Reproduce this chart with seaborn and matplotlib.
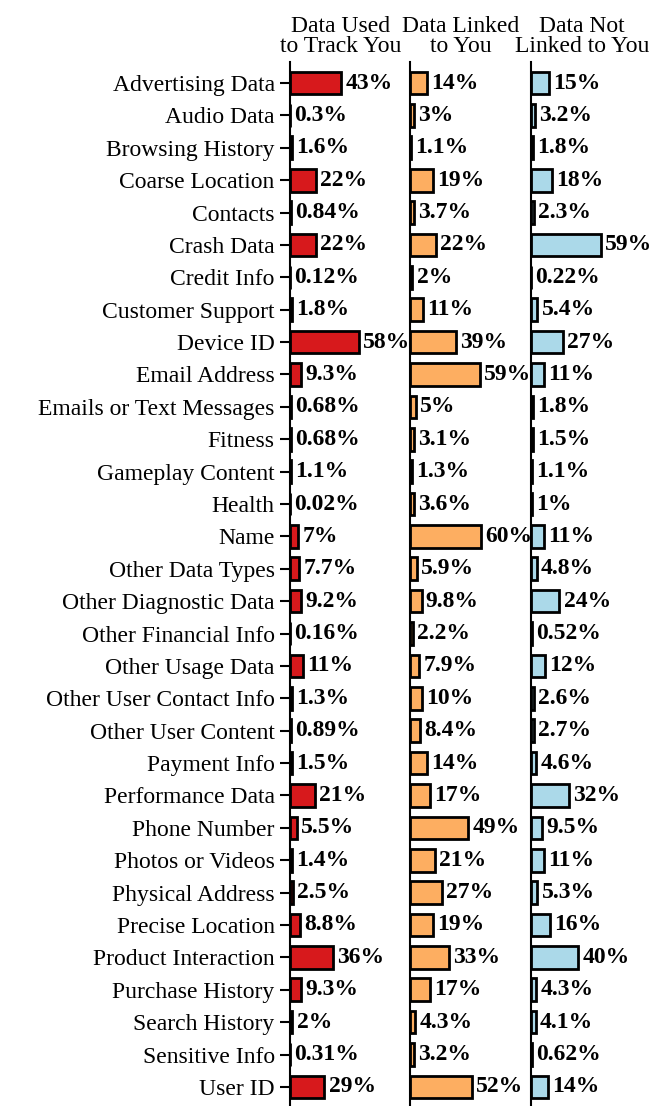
import pandas as pd
import numpy as np
import matplotlib
matplotlib.use('Agg')
import matplotlib.pyplot as plt
import seaborn as sns

categories = ['Advertising Data', 'Audio Data', 'Browsing History', 'Coarse Location',
              'Contacts', 'Crash Data', 'Credit Info', 'Customer Support', 'Device ID',
              'Email Address', 'Emails or Text Messages', 'Fitness', 'Gameplay Content',
              'Health', 'Name', 'Other Data Types', 'Other Diagnostic Data',
              'Other Financial Info', 'Other Usage Data', 'Other User Contact Info',
              'Other User Content', 'Payment Info', 'Performance Data', 'Phone Number',
              'Photos or Videos', 'Physical Address', 'Precise Location',
              'Product Interaction', 'Purchase History', 'Search History',
              'Sensitive Info', 'User ID']

track = [43, 0.3, 1.6, 22, 0.84, 22, 0.12, 1.8, 58, 9.3, 0.68, 0.68, 1.1, 0.02, 7,
         7.7, 9.2, 0.16, 11, 1.3, 0.89, 1.5, 21, 5.5, 1.4, 2.5, 8.8, 36, 9.3, 2, 0.31, 29]
linked = [14, 3, 1.1, 19, 3.7, 22, 2, 11, 39, 59, 5, 3.1, 1.3, 3.6, 60,
          5.9, 9.8, 2.2, 7.9, 10, 8.4, 14, 17, 49, 21, 27, 19, 33, 17, 4.3, 3.2, 52]
not_linked = [15, 3.2, 1.8, 18, 2.3, 59, 0.22, 5.4, 27, 11, 1.8, 1.5, 1.1, 1, 11,
              4.8, 24, 0.52, 12, 2.6, 2.7, 4.6, 32, 9.5, 11, 5.3, 16, 40, 4.3, 4.1, 0.62, 14]

titles = ['Data Used\nto Track You', 'Data Linked\nto You', 'Data Not\nLinked to You']
colors = ['#d7191c', '#fdae61', '#abd9e9']

sns.set_style('ticks')
plt.rcParams['font.family'] = ['Liberation Serif', 'DejaVu Serif']
plt.rcParams['axes.linewidth'] = 1.5
for key in ['text.color', 'axes.labelcolor', 'xtick.color', 'ytick.color', 'axes.edgecolor']:
    plt.rcParams[key] = 'black'

df = pd.DataFrame({'category': categories, 'track': track,
                   'linked': linked, 'not_linked': not_linked})

fig = plt.figure(figsize=(6.68, 11.06), dpi=100)
lefts = [290, 410, 531]
width = 102
top = 1 - 62 / 1106

for i, (col, title, color) in enumerate(zip(['track', 'linked', 'not_linked'], titles, colors)):
    ax = fig.add_axes([lefts[i] / 668, 0, width / 668, top])
    sns.barplot(data=df, x=col, y='category', orient='h', color=color,
                edgecolor='black', linewidth=2, width=0.7, saturation=1, ax=ax)
    ax.set_xlim(0, 86)
    ax.set_ylim(31.59, -0.65)
    ax.set_xlabel('')
    ax.set_ylabel('')
    ax.set_xticks([])
    sns.despine(ax=ax, top=True, right=True, bottom=True)
    labels = [f'{v:g}%' for v in df[col]]
    ax.bar_label(ax.containers[0], labels=labels, padding=3, fontsize=17,
                 fontweight='bold', color='black', clip_on=False)
    ax.set_title(title, fontsize=17, linespacing=0.95, pad=7, color='black')
    if i == 0:
        ax.tick_params(axis='y', length=7, width=1.5, pad=4, labelsize=17,
                       colors='black')
    else:
        ax.tick_params(axis='y', length=0, labelleft=False)

fig.savefig('out.png', dpi=100)
